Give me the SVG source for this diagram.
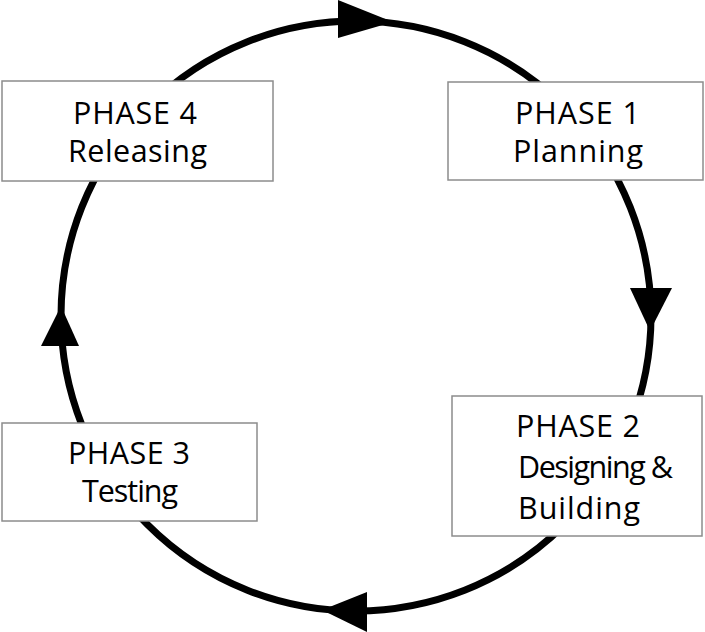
<svg xmlns="http://www.w3.org/2000/svg" width="705" height="632" viewBox="0 0 705 632">
<style>
.box{fill:#fff;stroke:#8c8c8c;stroke-width:1.5}
.t{font-family:"Open Sans","Noto Sans",sans-serif;font-size:30.5px;fill:#000;text-anchor:middle}
.ring{fill:none;stroke:#000;stroke-width:7}
.head{fill:#000}
</style>
<rect width="705" height="632" fill="#fff"/>
<g id="connectors">
<circle class="ring" cx="356" cy="316" r="295"/>
<polygon class="head" points="338,0 338,38 393,22"/>
<polygon class="head" points="630,288 672,288 650,331"/>
<polygon class="head" points="367,592 367,632 322,610"/>
<polygon class="head" points="41,346 79,346 61,306"/>
</g>
<g id="phase1">
<rect class="box" x="448" y="82" width="255" height="98"/>
<text class="t" x="577.5" y="124" textLength="125">PHASE 1</text>
<text class="t" x="578" y="162" textLength="130">Planning</text>
</g>
<g id="phase2">
<rect class="box" x="452" y="396" width="250" height="140"/>
<text class="t" x="578" y="437" textLength="124">PHASE 2</text>
<text class="t" x="595.5" y="478" textLength="155">Designing &amp;</text>
<text class="t" x="579" y="519" textLength="122">Building</text>
</g>
<g id="phase3">
<rect class="box" x="2" y="423" width="255" height="98"/>
<text class="t" x="129" y="464" textLength="122">PHASE 3</text>
<text class="t" x="130" y="502" textLength="96">Testing</text>
</g>
<g id="phase4">
<rect class="box" x="2" y="81" width="271" height="100"/>
<text class="t" x="135" y="124" textLength="124">PHASE 4</text>
<text class="t" x="137.5" y="162" textLength="139">Releasing</text>
</g>
</svg>
